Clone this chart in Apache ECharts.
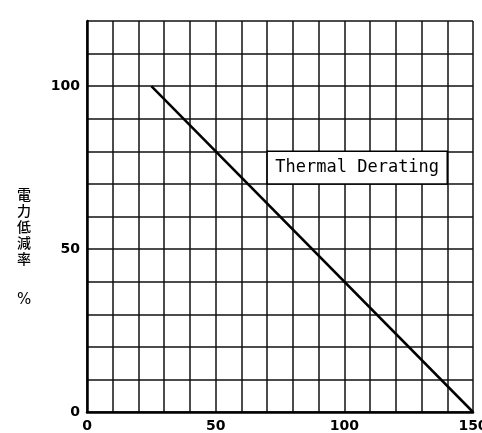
<!DOCTYPE html>
<html>
<head>
<meta charset="utf-8">
<script src="https://cdn.jsdelivr.net/npm/echarts@6/dist/echarts.min.js"></script>
<style>
  html, body { margin: 0; padding: 0; background: #fff; }
  #main { width: 482px; height: 433px; }
</style>
</head>
<body>
<div id="main"></div>
<script>
// 温度 (x) と 電力低減率 (y)
var tempX = [25, 150];
var derateY = [100, 0];
var xTicks = [0, 50, 100, 150];
var yTicks = [0, 50, 100];
var boxLabel = 'Thermal Derating';

var myChart = echarts.init(document.getElementById('main'));

var lineData = [];
for (var i = 0; i < tempX.length; i++) {
    lineData.push([tempX[i], derateY[i]]);
}

var gridLine = { show: true, lineStyle: { color: '#111', width: 1.5 } };

var option = {
    animation: false,
    backgroundColor: '#fff',
    title: [{
        text: '電\n力\n低\n減\n率',
        left: 17, top: 187,
        textStyle: { fontFamily: 'Noto Sans CJK JP', fontSize: 14, fontWeight: 500, lineHeight: 16, color: '#000' },
        padding: 0
    }, {
        text: '%',
        left: 17, top: 293,
        textStyle: { fontFamily: 'DejaVu Sans', fontSize: 15, fontWeight: 'normal', color: '#000' },
        padding: 0
    }],
    grid: { left: 87, right: 9, top: 21, bottom: 21, containLabel: false, outerBoundsMode: 'none' },
    xAxis: {
        type: 'value', min: 0, max: 150, interval: 10,
        axisLine: { show: true, lineStyle: { color: '#000', width: 2.5 } },
        axisTick: { show: false },
        splitLine: gridLine,
        axisLabel: {
            margin: 7, color: '#000', fontFamily: 'DejaVu Sans', fontSize: 14, fontWeight: 'bold',
            hideOverlap: false,
            formatter: function (v) { return xTicks.indexOf(v) >= 0 ? String(v) : ''; }
        }
    },
    yAxis: {
        type: 'value', min: 0, max: 120, interval: 10,
        axisLine: { show: true, lineStyle: { color: '#000', width: 2.5 } },
        axisTick: { show: false },
        splitLine: gridLine,
        axisLabel: {
            margin: 7, color: '#000', fontFamily: 'DejaVu Sans', fontSize: 14, fontWeight: 'bold',
            formatter: function (v) { return yTicks.indexOf(v) >= 0 ? String(v) : ''; }
        }
    },
    series: [{
        type: 'line',
        data: lineData,
        symbol: 'none',
        lineStyle: { color: '#000', width: 2.5 },
        markArea: {
            silent: true,
            itemStyle: { color: '#fff', borderColor: '#000', borderWidth: 1.5 },
            label: {
                show: true, position: 'inside', color: '#000',
                fontFamily: 'DejaVu Sans Mono', fontSize: 17
            },
            data: [[{ name: boxLabel, coord: [70, 80] }, { coord: [140, 70] }]]
        }
    }]
};

myChart.setOption(option);
</script>
</body>
</html>
